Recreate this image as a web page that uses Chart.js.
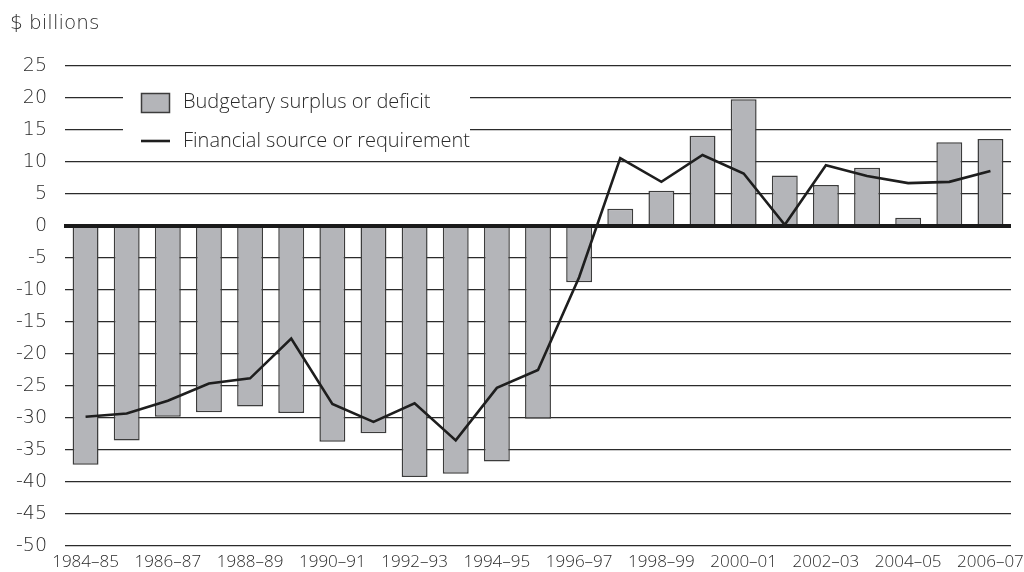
<!DOCTYPE html>
<html>
<head>
<meta charset="utf-8">
<script src="https://cdn.jsdelivr.net/npm/chart.js@4/dist/chart.umd.min.js"></script>
<style>
  html, body { margin: 0; padding: 0; background: #fff; }
  #wrap { width: 1024px; height: 572px; position: relative; }
</style>
</head>
<body>
<div id="wrap"><canvas id="chart" width="1024" height="572"></canvas></div>
<script>
// Fiscal years
const categories = [
  '1984–85', '1985–86', '1986–87', '1987–88', '1988–89', '1989–90',
  '1990–91', '1991–92', '1992–93', '1993–94', '1994–95', '1995–96',
  '1996–97', '1997–98', '1998–99', '1999–00', '2000–01', '2001–02',
  '2002–03', '2003–04', '2004–05', '2005–06', '2006–07'
];

// $ billions
const budgetaryBalance = [
  -37.3, -33.5, -29.8, -29.1, -28.2, -29.2,
  -33.7, -32.4, -39.2, -38.7, -36.8, -30.1,
  -8.8, 2.7, 5.5, 14.1, 19.8, 7.9,
  6.4, 9.1, 1.3, 13.1, 13.6
];

const financialSource = [
  -29.8, -29.3, -27.3, -24.6, -23.8, -17.6,
  -27.8, -30.6, -27.7, -33.5, -25.3, -22.5,
  -8.0, 10.6, 6.9, 11.1, 8.2, 0.2,
  9.5, 7.8, 6.7, 6.9, 8.6
];

const seriesNames = ['Budgetary surplus or deficit', 'Financial source or requirement'];
const yTicks = { min: -50, max: 25, step: 5 };
const unitLabel = '$ billions';

const textColor = '#2a2a2a';
const gridColor = '#2b2b2b';

// Heavy zero line, drawn over the bars but beneath the line series
const zeroLine = {
  id: 'zeroLine',
  beforeDatasetDraw(chart, args) {
    if (args.meta.type !== 'line') return;
    const { ctx, chartArea, scales } = chart;
    const y = scales.y.getPixelForValue(0);
    ctx.save();
    ctx.strokeStyle = '#1a1a1a';
    ctx.lineWidth = 4;
    ctx.beginPath();
    ctx.moveTo(chartArea.left - 1, y);
    ctx.lineTo(chartArea.right, y);
    ctx.stroke();
    ctx.restore();
  }
};

// Unit caption and the boxed legend inside the plot
const annotations = {
  id: 'annotations',
  afterDraw(chart) {
    const { ctx } = chart;
    const ds = chart.data.datasets;
    ctx.save();
    ctx.fillStyle = textColor;
    ctx.font = '300 20px "DejaVu Sans", sans-serif';
    ctx.textBaseline = 'middle';
    ctx.textAlign = 'left';
    ctx.fillText(unitLabel, 10, 24);

    // legend panel
    ctx.fillStyle = '#fff';
    ctx.fillRect(123, 80, 347, 71);

    // bar swatch
    ctx.fillStyle = ds[0].backgroundColor;
    ctx.strokeStyle = ds[0].borderColor;
    ctx.lineWidth = 1.5;
    ctx.fillRect(141.5, 93.5, 28, 19);
    ctx.strokeRect(141.5, 93.5, 28, 19);

    // line swatch
    ctx.strokeStyle = ds[1].borderColor;
    ctx.lineWidth = ds[1].borderWidth;
    ctx.beginPath();
    ctx.moveTo(141, 141);
    ctx.lineTo(170, 141);
    ctx.stroke();

    ctx.fillStyle = textColor;
    ctx.font = '300 20px "Open Sans", sans-serif';
    ctx.fillText(ds[0].label, 183, 102);
    ctx.fillText(ds[1].label, 183, 141);
    ctx.restore();
  }
};

new Chart(document.getElementById('chart'), {
  data: {
    labels: categories,
    datasets: [
      {
        type: 'bar',
        label: seriesNames[0],
        data: budgetaryBalance,
        backgroundColor: '#b4b5b9',
        borderColor: '#3c3c3c',
        borderWidth: 1.5,
        barPercentage: 0.63,
        categoryPercentage: 1,
        order: 2
      },
      {
        type: 'line',
        label: seriesNames[1],
        data: financialSource,
        borderColor: '#1e1e1e',
        borderWidth: 2.6,
        pointRadius: 0,
        tension: 0,
        fill: false,
        order: 1
      }
    ]
  },
  options: {
    responsive: false,
    animation: false,
    layout: { padding: { top: 66, right: 13, left: 0, bottom: 0 } },
    plugins: {
      legend: { display: false },
      tooltip: { enabled: false }
    },
    scales: {
      x: {
        grid: { display: false, drawTicks: false },
        border: { display: false },
        afterFit(scale) {
          scale.height = 26;
          scale.paddingLeft = 0;
          scale.paddingRight = 0;
        },
        ticks: {
          autoSkip: false,
          maxRotation: 0,
          padding: 6,
          color: textColor,
          font: { family: '"Open Sans", sans-serif', size: 17, weight: 300 },
          callback: (v, i) => (i % 2 === 0 ? categories[i] : '')
        }
      },
      y: {
        min: yTicks.min,
        max: yTicks.max,
        afterFit(scale) {
          scale.width = 65;
          scale.paddingTop = 0;
          scale.paddingBottom = 0;
        },
        grid: {
          color: gridColor,
          lineWidth: (c) => (c.tick && c.tick.value === 0 ? 0 : 1.3),
          drawTicks: false,
          tickLength: 0
        },
        border: { display: false },
        ticks: {
          stepSize: yTicks.step,
          padding: 18,
          color: textColor,
          font: { family: '"DejaVu Sans", sans-serif', size: 19, weight: 300 }
        }
      }
    }
  },
  plugins: [zeroLine, annotations]
});
</script>
</body>
</html>
